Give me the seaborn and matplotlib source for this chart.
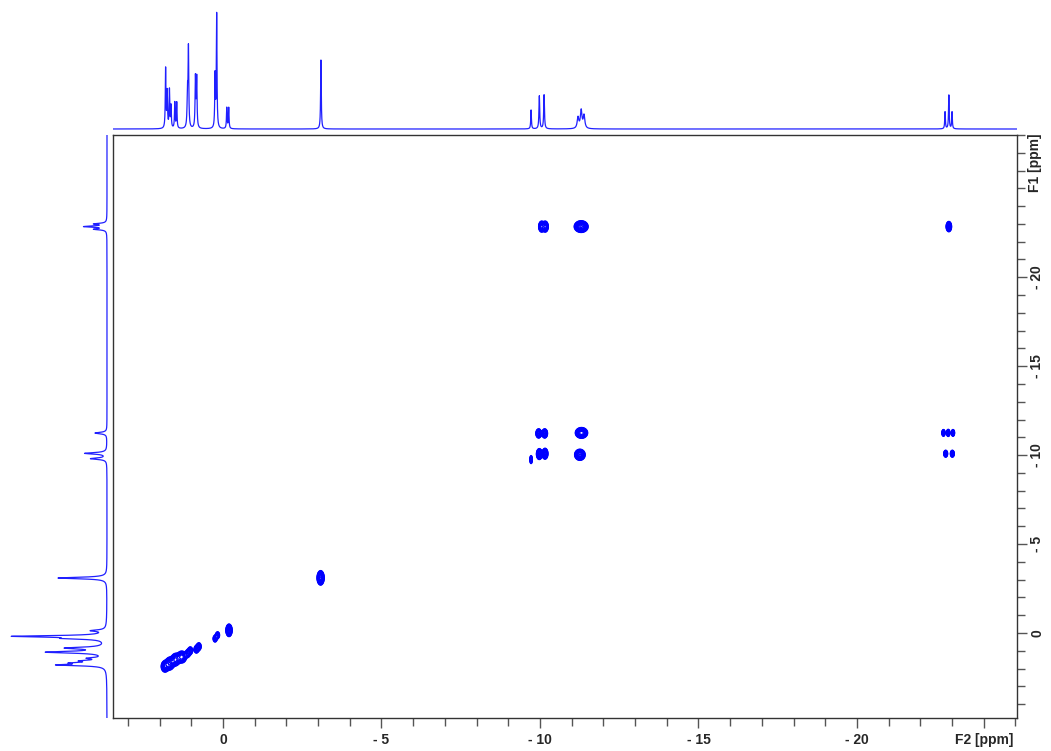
import numpy as np
import pandas as pd
import matplotlib
matplotlib.use("Agg")
import matplotlib.pyplot as plt
import matplotlib.ticker as mticker
import seaborn as sns

# ---------------- data ----------------
# 1D projection along F2 (top trace): peak ppm, height (relative), linewidth (ppm)
top_ppm = [1.81, 1.76, 1.69, 1.64, 1.52, 1.46, 1.12, 1.09, 0.87, 0.83, 0.25, 0.20,
           -0.12, -0.18, -3.09, -9.72, -9.98, -10.13, -11.20, -11.30, -11.39,
           -22.78, -22.90, -23.00]
top_int = [60, 36, 38, 22, 26, 26, 34, 78, 50, 50, 52, 114,
           21, 21, 69, 19, 33, 34, 11, 18, 13,
           17, 34, 17]
top_wid = [0.012, 0.012, 0.012, 0.012, 0.012, 0.012, 0.015, 0.013, 0.013, 0.013, 0.012, 0.012,
           0.012, 0.012, 0.012, 0.012, 0.014, 0.014, 0.03, 0.03, 0.03,
           0.012, 0.012, 0.012]

# 1D projection along F1 (left trace)
left_ppm = [-22.70, -22.85, -23.00, -11.24, -10.10, -9.80, -3.09,
            -0.13, 0.19, 0.31, 0.85, 1.08, 1.42, 1.57, 1.69, 1.80]
left_int = [12, 22, 12, 12, 22, 16, 49,
            14, 90, 32, 38, 58, 15, 20, 27, 45]
left_wid = [0.04, 0.04, 0.04, 0.05, 0.05, 0.05, 0.05,
            0.05, 0.05, 0.05, 0.06, 0.06, 0.05, 0.05, 0.05, 0.05]

# 2D cross / diagonal peaks: F2 ppm, F1 ppm, amplitude, widths (ppm)
peak_f2 = [-0.19, 0.17, 0.25, 0.76, 0.84, 1.03, 1.11, 1.30, 1.50, 1.68, 1.83,
           -3.08, -9.72, -9.98, -10.16, -9.96, -10.15, -11.31, -11.26,
           -10.05, -10.17, -11.30, -22.90,
           -22.73, -22.88, -23.03, -22.80, -23.01]
peak_f1 = [-0.15, 0.12, 0.32, 0.76, 0.92, 0.99, 1.15, 1.35, 1.50, 1.72, 1.88,
           -3.10, -9.75, -10.06, -10.08, -11.22, -11.22, -11.25, -10.02,
           -22.85, -22.85, -22.85, -22.85,
           -11.25, -11.25, -11.25, -10.08, -10.08]
peak_amp = [1.4, 0.42, 0.42, 0.45, 0.45, 0.45, 0.45, 0.7, 0.8, 0.9, 0.9,
            1.6, 0.45, 1.0, 1.0, 0.9, 0.9, 1.3, 1.1,
            1.0, 1.0, 1.4, 0.8,
            0.55, 0.65, 0.55, 0.6, 0.6]
peak_w2 = [0.045, 0.04, 0.04, 0.045, 0.045, 0.045, 0.045, 0.08, 0.07, 0.07, 0.06,
           0.05, 0.025, 0.045, 0.045, 0.045, 0.045, 0.09, 0.08,
           0.045, 0.045, 0.10, 0.045,
           0.03, 0.03, 0.03, 0.035, 0.035]
peak_w1 = [0.16, 0.12, 0.12, 0.13, 0.13, 0.13, 0.13, 0.18, 0.18, 0.18, 0.16,
           0.18, 0.14, 0.15, 0.15, 0.13, 0.13, 0.14, 0.15,
           0.15, 0.15, 0.15, 0.15,
           0.11, 0.11, 0.11, 0.11, 0.11]

f2_major = [0, -5, -10, -15, -20, -24]
f2_major_labels = ["0", "- 5", "- 10", "- 15", "- 20", "F2 [ppm]"]
f1_major = [0, -5, -10, -15, -20]
f1_major_labels = ["0", "- 5", "- 10", "- 15", "- 20"]
f1_unit = "F1 [ppm]"

F2_LIM = (3.47, -25.05)
F1_LIM = (4.78, -28.0)

# ---------------- style ----------------
sns.set_style("white")
plt.rcParams['font.family'] = ['Liberation Sans', 'DejaVu Sans']
plt.rcParams['font.weight'] = 'bold'

W, H = 1051, 751
fig = plt.figure(figsize=(W / 100, H / 100), dpi=100)
main = fig.add_axes([113 / W, 33 / H, 904 / W, 583 / H])
top = fig.add_axes([113 / W, (H - 131) / H, 904 / W, 131 / H])
left = fig.add_axes([0, 33 / H, 111 / W, 583 / H])

spec_color = "#2020ff"

# ---- top trace
x1d = np.linspace(F2_LIM[0], F2_LIM[1], 12000)
ytop = np.zeros_like(x1d)
for p, h, w in zip(top_ppm, top_int, top_wid):
    ytop += h / (1 + ((x1d - p) / w) ** 2)
df_top = pd.DataFrame({"ppm": x1d, "I": ytop})
sns.lineplot(data=df_top, x="ppm", y="I", ax=top, color=spec_color, lw=0.9,
             estimator=None, sort=False)
top.set_xlim(*F2_LIM)
top.set_ylim(-2, 129)
top.axis("off")

# ---- left trace
y1d = np.linspace(F1_LIM[0], F1_LIM[1], 8000)
xleft = np.zeros_like(y1d)
for p, h, w in zip(left_ppm, left_int, left_wid):
    xleft += h / (1 + ((y1d - p) / w) ** 2)
df_left = pd.DataFrame({"ppm": y1d, "I": xleft})
sns.lineplot(data=df_left, x="I", y="ppm", ax=left, color=spec_color, lw=0.9,
             estimator=None, sort=False, orient="y")
left.set_ylim(*F1_LIM)
left.set_xlim(107, -4)
left.axis("off")

# ---- 2D contour
gx = np.linspace(F2_LIM[0], F2_LIM[1], 2400)
gy = np.linspace(F1_LIM[0], F1_LIM[1], 1400)
Z = np.zeros((gy.size, gx.size))
for f2, f1, a, w2, w1 in zip(peak_f2, peak_f1, peak_amp, peak_w2, peak_w1):
    ex = np.exp(-0.5 * ((gx - f2) / w2) ** 2)
    ey = np.exp(-0.5 * ((gy - f1) / w1) ** 2)
    Z += a * np.outer(ey, ex)
levels = 0.12 * 1.22 ** np.arange(0, 14)
main.contour(gx, gy, Z, levels=levels, colors="#0000ff", linewidths=0.9)
main.set_xlim(*F2_LIM)
main.set_ylim(*F1_LIM)

for s in main.spines.values():
    s.set_color("#333333")
    s.set_linewidth(1.0)
    s.set_visible(True)

main.xaxis.set_major_locator(mticker.FixedLocator(f2_major))
main.xaxis.set_major_formatter(mticker.FixedFormatter(f2_major_labels))
main.xaxis.set_minor_locator(mticker.MultipleLocator(1))
main.yaxis.set_major_locator(mticker.FixedLocator(f1_major))
main.yaxis.set_major_formatter(mticker.FixedFormatter(f1_major_labels))
main.yaxis.set_minor_locator(mticker.MultipleLocator(1))
main.yaxis.tick_right()
main.tick_params(axis="both", which="both", direction="out", color="#555555",
                 width=1.0, bottom=True, right=True, left=False, top=False)
main.tick_params(axis="both", which="major", length=7.5, pad=3, labelsize=10)
main.tick_params(axis="both", which="minor", length=5.5)
main.tick_params(axis="y", which="major", labelrotation=90, pad=2)
for lab in main.get_yticklabels():
    lab.set_va("center")
    lab.set_fontweight("bold")
for lab in main.get_xticklabels():
    lab.set_fontweight("bold")
main.set_xlabel("")
main.set_ylabel("")

fig.text(1028 / W, 1 - 163 / H, f1_unit, rotation=90, ha="left", va="center",
         fontsize=10, fontweight="bold")

fig.savefig("out.png", dpi=100)
